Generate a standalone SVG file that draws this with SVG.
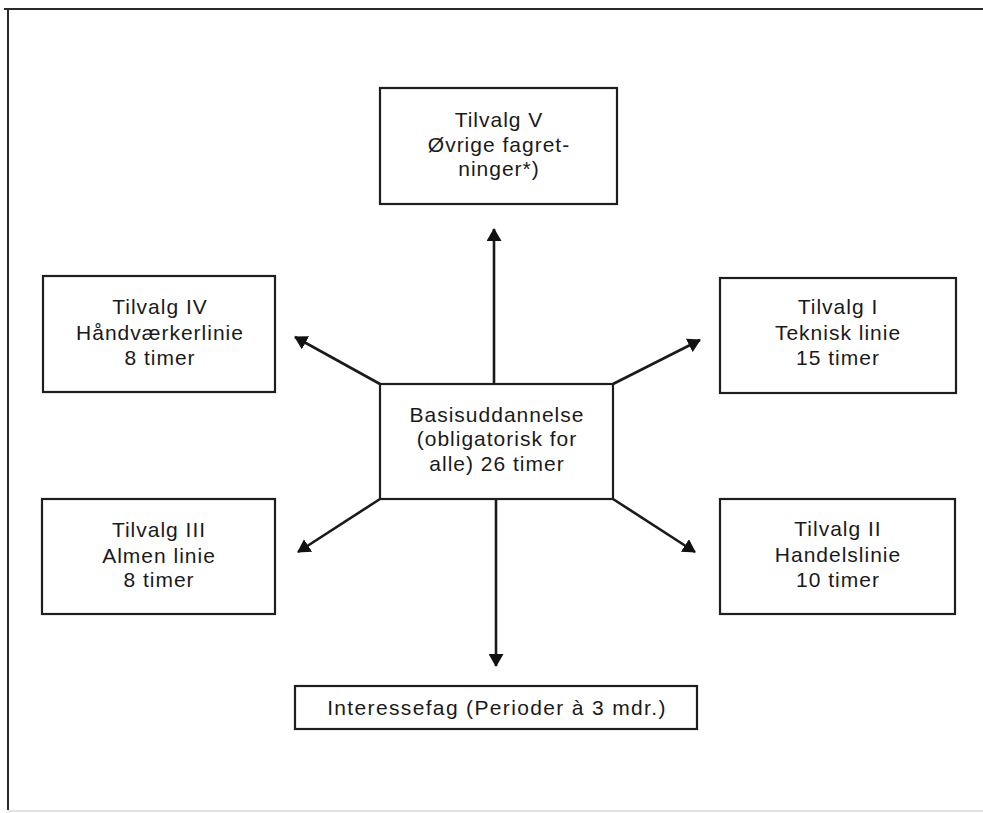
<svg xmlns="http://www.w3.org/2000/svg" width="983" height="813" viewBox="0 0 983 813">
<style>
  .box { fill: #ffffff; stroke: #1e1e1e; stroke-width: 2.2; }
  .lbl { font-family: "Liberation Sans", Arial, sans-serif; font-size: 21px; letter-spacing: 1px; fill: #1a1a1a; text-anchor: middle; }
  .conn { stroke: #1a1a1a; stroke-width: 2.6; fill: none; marker-end: url(#arrow); }
</style>
<defs>
  <marker id="arrow" viewBox="0 0 13 15" refX="12" refY="7.5" markerWidth="13" markerHeight="15" markerUnits="userSpaceOnUse" orient="auto">
    <path d="M0,0 L13,7.5 L0,15 Z" fill="#111111"/>
  </marker>
</defs>
<rect width="983" height="813" fill="#ffffff"/>
<g id="frame">
  <line x1="4" y1="9" x2="983" y2="9" stroke="#2a2a2a" stroke-width="2.2"/>
  <line x1="8" y1="8" x2="8" y2="810" stroke="#2a2a2a" stroke-width="2"/>
  <line x1="8" y1="811" x2="983" y2="811" stroke="#c8c8c8" stroke-width="1"/>
</g>
<g id="connectors">
  <line class="conn" x1="494" y1="383" x2="494" y2="229"/>
  <line class="conn" x1="380" y1="384" x2="295" y2="337"/>
  <line class="conn" x1="613" y1="384" x2="700" y2="340"/>
  <line class="conn" x1="380" y1="499" x2="298" y2="552"/>
  <line class="conn" x1="613" y1="499" x2="695" y2="552"/>
  <line class="conn" x1="496" y1="499" x2="496" y2="666"/>
</g>
<g id="tilvalg-v">
  <rect class="box" x="380" y="88" width="237" height="116"/>
  <text class="lbl" x="499" y="127">Tilvalg V</text>
  <text class="lbl" x="499" y="152">Øvrige fagret-</text>
  <text class="lbl" x="499" y="176">ninger*)</text>
</g>
<g id="tilvalg-iv">
  <rect class="box" x="43" y="276" width="232" height="116"/>
  <text class="lbl" x="160" y="314">Tilvalg IV</text>
  <text class="lbl" x="160" y="340">Håndværkerlinie</text>
  <text class="lbl" x="160" y="365">8 timer</text>
</g>
<g id="tilvalg-i">
  <rect class="box" x="720" y="278" width="236" height="115"/>
  <text class="lbl" x="838" y="314">Tilvalg I</text>
  <text class="lbl" x="838" y="340">Teknisk linie</text>
  <text class="lbl" x="838" y="365">15 timer</text>
</g>
<g id="basis">
  <rect class="box" x="380" y="384" width="233" height="115"/>
  <text class="lbl" x="497" y="422">Basisuddannelse</text>
  <text class="lbl" x="497" y="446">(obligatorisk for</text>
  <text class="lbl" x="497" y="471">alle) 26 timer</text>
</g>
<g id="tilvalg-iii">
  <rect class="box" x="42" y="499" width="233" height="115"/>
  <text class="lbl" x="159" y="537">Tilvalg III</text>
  <text class="lbl" x="159" y="563">Almen linie</text>
  <text class="lbl" x="159" y="587">8 timer</text>
</g>
<g id="tilvalg-ii">
  <rect class="box" x="720" y="499" width="235" height="115"/>
  <text class="lbl" x="838" y="536">Tilvalg II</text>
  <text class="lbl" x="838" y="562">Handelslinie</text>
  <text class="lbl" x="838" y="587">10 timer</text>
</g>
<g id="interessefag">
  <rect class="box" x="295" y="686" width="402" height="43" stroke-width="2.8"/>
  <text class="lbl" x="497" y="715" style="letter-spacing:1.35px">Interessefag (Perioder à 3 mdr.)</text>
</g>
</svg>
